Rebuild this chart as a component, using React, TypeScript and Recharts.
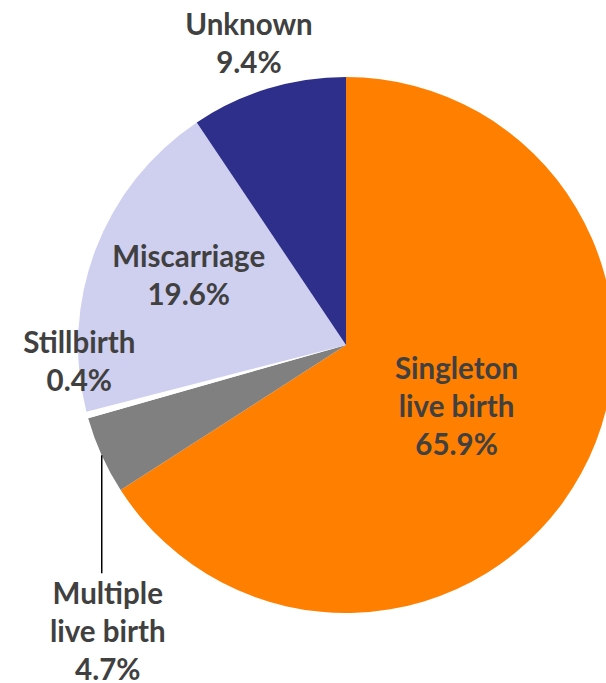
import { PieChart, Pie, Cell } from 'recharts';

const categories = ['Singleton live birth', 'Multiple live birth', 'Stillbirth', 'Miscarriage', 'Unknown'];
const shares = [65.9, 4.7, 0.4, 19.6, 9.4];
const colors = ['#FF7F00', '#808080', '#FFFFFF', '#CFCFEF', '#2E2E8B'];

// label lines as printed (name split over lines)
const labelLines = [['Singleton', 'live birth'], ['Multiple', 'live birth'], ['Stillbirth'], ['Miscarriage'], ['Unknown']];

const data = categories.map((name, i) => ({ name, value: shares[i] }));

const RAD = Math.PI / 180;
const LINE_H = 38;

// where each label sits: radius factor + small nudge
const labelPos: Record<string, { r: number; dx: number; dy: number; leader?: number }> = {
  'Singleton live birth': { r: 0.47, dx: 0, dy: 0 },
  'Multiple live birth': { r: 1, dx: 6, dy: 175, leader: 118 },
  Stillbirth: { r: 1, dx: -8, dy: -55 },
  Miscarriage: { r: 0.64, dx: 3, dy: -10 },
  Unknown: { r: 1.18, dx: -5, dy: 0 },
};

const renderLabel = (props: any) => {
  const { cx, cy, midAngle, outerRadius, index } = props;
  const name = categories[index];
  const pos = labelPos[name];
  const px = cx + outerRadius * pos.r * Math.cos(-midAngle * RAD);
  const py = cy + outerRadius * pos.r * Math.sin(-midAngle * RAD);
  const lines = [...labelLines[index], `${shares[index].toFixed(1)}%`];
  const x = px + pos.dx;
  const y0 = py + pos.dy - ((lines.length - 1) * LINE_H) / 2;
  return (
    <g key={name}>
      {pos.leader && (
        <line x1={px} y1={py} x2={px} y2={py + pos.leader} stroke="#000" strokeWidth={1.5} />
      )}
      <text
        x={x}
        y={y0}
        textAnchor="middle"
        dominantBaseline="central"
        fill="#404040"
        fontSize={29.5}
        fontWeight="bold"
        fontFamily="Lato, sans-serif"
      >
        {lines.map((l, i) => (
          <tspan key={i} x={x} y={y0 + i * LINE_H}>
            {l}
          </tspan>
        ))}
      </text>
    </g>
  );
};

const App = () => {
  return (
    <div style={{ position: 'absolute', left: 0, top: 0, width: 606, height: 683, overflow: 'hidden', background: '#fff' }}>
      <PieChart width={700} height={683} margin={{ top: 0, right: 0, bottom: 0, left: 0 }}>
        <Pie
          data={data}
          dataKey="value"
          nameKey="name"
          cx={346}
          cy={345}
          outerRadius={268}
          startAngle={90}
          endAngle={-270}
          stroke="none"
          label={renderLabel}
          labelLine={false}
          isAnimationActive={false}
        >
          {data.map((d, i) => (
            <Cell key={d.name} fill={colors[i]} />
          ))}
        </Pie>
      </PieChart>
    </div>
  );
};

export default App;
